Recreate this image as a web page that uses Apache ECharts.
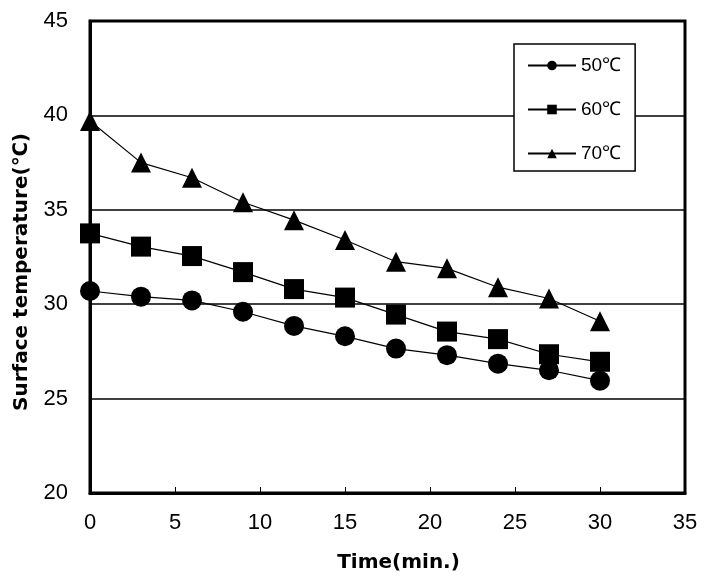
<!DOCTYPE html>
<html>
<head>
<meta charset="utf-8">
<script src="https://cdn.jsdelivr.net/npm/echarts@6/dist/echarts.min.js"></script>
<style>html,body{margin:0;padding:0;background:#fff;}#c{width:715px;height:587px;}</style>
</head>
<body>
<div id="c"></div>
<script>
var times = [0, 3, 6, 9, 12, 15, 18, 21, 24, 27, 30];
var t50 = [30.7, 30.4, 30.2, 29.6, 28.85, 28.3, 27.65, 27.3, 26.85, 26.5, 25.95];
var t60 = [33.75, 33.05, 32.55, 31.7, 30.8, 30.35, 29.45, 28.55, 28.15, 27.35, 26.95];
var t70 = [39.7, 37.5, 36.7, 35.4, 34.45, 33.4, 32.25, 31.9, 30.9, 30.3, 29.1];
var seriesNames = ['50℃', '60℃', '70℃'];
var xTitle = 'Time(min.)';
var yTitle = 'Surface temperature(℃)';

var labelFont = "'Liberation Sans Narrow', 'Liberation Sans', sans-serif";
var titleFont = "'DejaVu Sans', sans-serif";

function pairs(vals) { return times.map(function (t, i) { return [t, vals[i]]; }); }
function mk(name, vals, sym, size) {
  return {
    name: name, type: 'line', data: pairs(vals), symbol: sym, symbolSize: size,
    itemStyle: { color: '#000' }, lineStyle: { color: '#000', width: 1.2 },
    emphasis: { disabled: true }, animation: false
  };
}
var chart = echarts.init(document.getElementById('c'), null, { renderer: 'canvas' });
chart.setOption({
  backgroundColor: '#fff',
  animation: false,
  grid: { left: 90, right: 30, top: 21, bottom: 94, show: true, borderColor: '#000', borderWidth: 3, backgroundColor: 'transparent' },
  legend: {
    orient: 'vertical', left: 514, top: 44,
    padding: [12, 14, 8, 13],
    itemWidth: 48, itemHeight: 12, itemGap: 25,
    backgroundColor: '#fff', borderColor: '#000', borderWidth: 1.5,
    textStyle: { fontFamily: labelFont, fontSize: 19, color: '#000' },
    data: seriesNames
  },
  xAxis: {
    type: 'value', min: 0, max: 35, interval: 5,
    name: xTitle, nameLocation: 'middle', nameGap: 60,
    nameTextStyle: { fontFamily: titleFont, fontWeight: 'bold', fontSize: 20, color: '#000', padding: [0, 0, 0, 22] },
    axisLine: { show: true, lineStyle: { color: '#000', width: 3 } },
    axisTick: { show: true, inside: true, length: 6, lineStyle: { color: '#000', width: 1 } },
    axisLabel: { fontFamily: labelFont, fontSize: 22, color: '#000', margin: 19 },
    splitLine: { show: false }
  },
  yAxis: {
    type: 'value', min: 20, max: 45, interval: 5,
    name: yTitle, nameLocation: 'middle', nameGap: 58,
    nameTextStyle: { fontFamily: titleFont, fontWeight: 'bold', fontSize: 20, color: '#000', padding: [0, 30, 0, 0] },
    axisLine: { show: true, lineStyle: { color: '#000', width: 3 } },
    axisTick: { show: false },
    axisLabel: { fontFamily: labelFont, fontSize: 22, color: '#000', margin: 22 },
    splitLine: { show: true, lineStyle: { color: '#000', width: 1.5 } }
  },
  series: [
    mk(seriesNames[0], t50, 'circle', 20),
    mk(seriesNames[1], t60, 'rect', 20),
    mk(seriesNames[2], t70, 'triangle', 20)
  ]
});
</script>
</body>
</html>
